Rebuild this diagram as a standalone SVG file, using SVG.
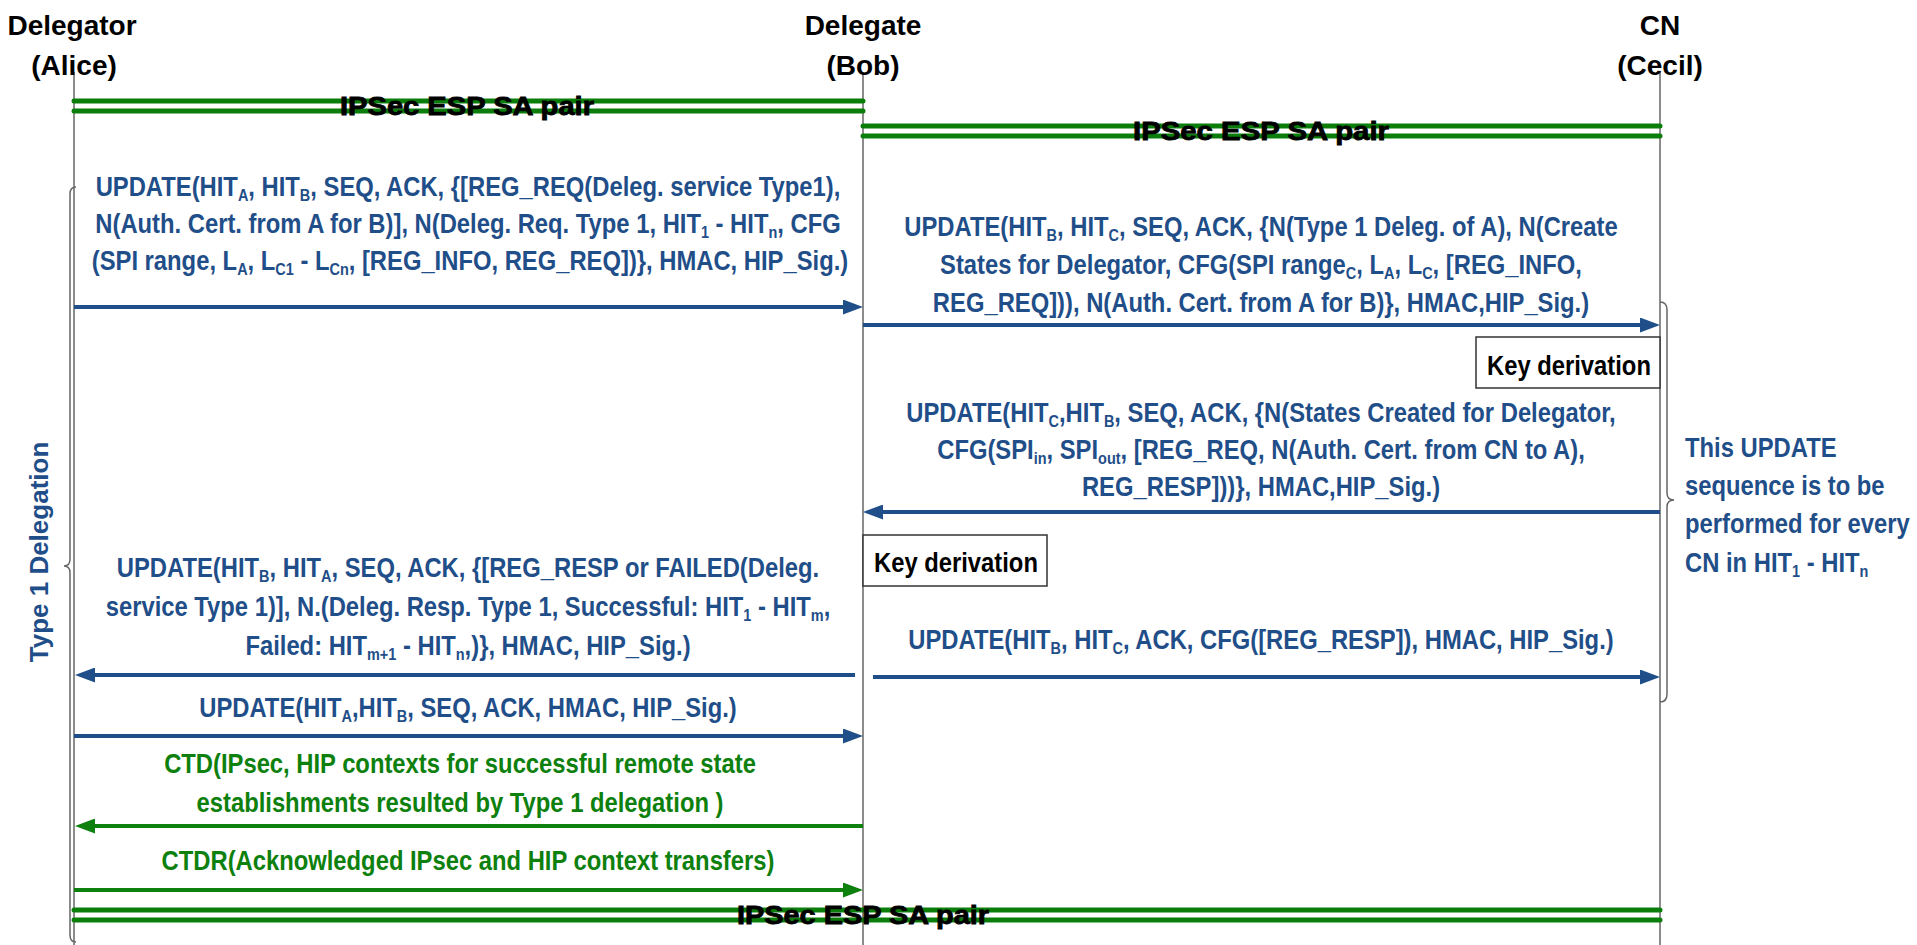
<svg xmlns="http://www.w3.org/2000/svg" width="1917" height="945" viewBox="0 0 1917 945">
<style>
.hd{font-family:"Liberation Sans",Arial,sans-serif;font-weight:bold;font-size:28px;fill:#000;text-anchor:middle}
.m{font-family:"Liberation Sans",Arial,sans-serif;font-weight:bold;font-size:28px;fill:#1f4e89;text-anchor:middle}
.g{font-family:"Liberation Sans",Arial,sans-serif;font-weight:bold;font-size:28px;fill:#0d800d;text-anchor:middle}
.l{text-anchor:start}
.kd{font-family:"Liberation Sans",Arial,sans-serif;font-weight:bold;font-size:28px;fill:#000;text-anchor:start}
.sa{font-family:"Liberation Sans",Arial,sans-serif;font-weight:bold;font-size:25px;fill:#000;stroke:#000;stroke-width:0.8;text-anchor:middle}
.s{font-size:17px}
.life{stroke:#666;stroke-width:1.5;fill:none}
.arr{stroke:#1f4e89;stroke-width:4;fill:none}
.garr{stroke:#0d800d;stroke-width:4;fill:none}
.sal{stroke:#0b7d0b;stroke-width:5;stroke-linecap:round;fill:none}
.box{fill:#fff;stroke:#333;stroke-width:1.5}
.brace{fill:none;stroke:#666;stroke-width:1.5}
</style>
<defs>
<marker id="ab" markerUnits="userSpaceOnUse" markerWidth="20" markerHeight="15" refX="8" refY="7.5" orient="auto"><path d="M0,0 L20,7.5 L0,15 z" fill="#1f4e89"/></marker>
<marker id="ag" markerUnits="userSpaceOnUse" markerWidth="20" markerHeight="15" refX="8" refY="7.5" orient="auto"><path d="M0,0 L20,7.5 L0,15 z" fill="#0d800d"/></marker>
</defs>
<rect width="1917" height="945" fill="#fff"/>

<g id="alice">
<line class="life" x1="74" y1="72" x2="74" y2="945"/>
<text class="hd" x="72" y="35">Delegator</text>
<text class="hd" x="74" y="75">(Alice)</text>
</g>
<g id="bob">
<line class="life" x1="863" y1="72" x2="863" y2="945"/>
<text class="hd" x="863" y="35">Delegate</text>
<text class="hd" x="863" y="75">(Bob)</text>
</g>
<g id="cn">
<line class="life" x1="1660" y1="72" x2="1660" y2="945"/>
<text class="hd" x="1660" y="35">CN</text>
<text class="hd" x="1660" y="75">(Cecil)</text>
</g>

<g id="keyderiv-cn">
<rect class="box" x="1476" y="337" width="184" height="51"/>
<text class="kd" transform="translate(1487,375) scale(0.85,1)">Key derivation</text>
</g>
<g id="keyderiv-bob">
<rect class="box" x="863" y="535" width="184" height="51"/>
<text class="kd" transform="translate(874,572) scale(0.85,1)">Key derivation</text>
</g>

<g id="brace-left">
<path class="brace" d="M76,187 Q70,187 70,194 L70,559 Q70,566 64,566 Q70,566 70,573 L70,935 Q70,942 76,942"/>
<text class="m" transform="translate(48,552) rotate(-90)" style="font-size:26px">Type 1 Delegation</text>
</g>
<g id="brace-right">
<path class="brace" d="M1660,302 Q1667,302 1667,310 L1667,493 Q1667,500 1674,500 Q1667,500 1667,507 L1667,694 Q1667,702 1660,702"/>
<text class="m l" transform="translate(1685,457) scale(0.85,1)">This UPDATE</text>
<text class="m l" transform="translate(1685,495) scale(0.85,1)">sequence is to be</text>
<text class="m l" transform="translate(1685,533) scale(0.85,1)">performed for every</text>
<text class="m l" transform="translate(1685,572) scale(0.85,1)">CN in HIT<tspan class="s" dy="5">1</tspan><tspan dy="-5"> - HIT</tspan><tspan class="s" dy="5">n</tspan></text>
</g>

<g id="connectors">
<line class="sal" x1="74" y1="101" x2="863" y2="101"/>
<line class="sal" x1="74" y1="111" x2="863" y2="111"/>
<line class="sal" x1="863" y1="126" x2="1660" y2="126"/>
<line class="sal" x1="863" y1="136" x2="1660" y2="136"/>
<line class="sal" x1="74" y1="910" x2="1660" y2="910"/>
<line class="sal" x1="74" y1="920" x2="1660" y2="920"/>
<line class="arr" x1="74" y1="307" x2="851" y2="307" marker-end="url(#ab)"/>
<line class="arr" x1="863" y1="325" x2="1648" y2="325" marker-end="url(#ab)"/>
<line class="arr" x1="1660" y1="512" x2="875" y2="512" marker-end="url(#ab)"/>
<line class="arr" x1="855" y1="675" x2="87" y2="675" marker-end="url(#ab)"/>
<line class="arr" x1="873" y1="677" x2="1648" y2="677" marker-end="url(#ab)"/>
<line class="arr" x1="74" y1="736" x2="851" y2="736" marker-end="url(#ab)"/>
<line class="garr" x1="863" y1="826" x2="87" y2="826" marker-end="url(#ag)"/>
<line class="garr" x1="74" y1="890" x2="851" y2="890" marker-end="url(#ag)"/>
</g>

<g id="labels">
<text class="sa" x="467" y="115" textLength="254" lengthAdjust="spacingAndGlyphs">IPSec ESP SA pair</text>
<text class="sa" x="1261" y="140" textLength="256" lengthAdjust="spacingAndGlyphs">IPSec ESP SA pair</text>
<text class="sa" x="863" y="924" textLength="252" lengthAdjust="spacingAndGlyphs">IPSec ESP SA pair</text>

<text class="m" transform="translate(468,196) scale(0.85,1)">UPDATE(HIT<tspan class="s" dy="5">A</tspan><tspan dy="-5">, HIT</tspan><tspan class="s" dy="5">B</tspan><tspan dy="-5">, SEQ, ACK, {[REG_REQ(Deleg. service Type1),</tspan></text>
<text class="m" transform="translate(468,233) scale(0.85,1)">N(Auth. Cert. from A for B)], N(Deleg. Req. Type 1, HIT<tspan class="s" dy="5">1</tspan><tspan dy="-5"> - HIT</tspan><tspan class="s" dy="5">n</tspan><tspan dy="-5">, CFG</tspan></text>
<text class="m" transform="translate(470,270) scale(0.85,1)">(SPI range, L<tspan class="s" dy="5">A</tspan><tspan dy="-5">, L</tspan><tspan class="s" dy="5">C1</tspan><tspan dy="-5"> - L</tspan><tspan class="s" dy="5">Cn</tspan><tspan dy="-5">, [REG_INFO, REG_REQ])}, HMAC, HIP_Sig.)</tspan></text>

<text class="m" transform="translate(1261,236) scale(0.85,1)">UPDATE(HIT<tspan class="s" dy="5">B</tspan><tspan dy="-5">, HIT</tspan><tspan class="s" dy="5">C</tspan><tspan dy="-5">, SEQ, ACK, {N(Type 1 Deleg. of A), N(Create</tspan></text>
<text class="m" transform="translate(1261,274) scale(0.85,1)">States for Delegator, CFG(SPI range<tspan class="s" dy="5">C</tspan><tspan dy="-5">, L</tspan><tspan class="s" dy="5">A</tspan><tspan dy="-5">, L</tspan><tspan class="s" dy="5">C</tspan><tspan dy="-5">, [REG_INFO,</tspan></text>
<text class="m" transform="translate(1261,312) scale(0.85,1)">REG_REQ])), N(Auth. Cert. from A for B)}, HMAC,HIP_Sig.)</text>

<text class="m" transform="translate(1261,422) scale(0.85,1)">UPDATE(HIT<tspan class="s" dy="5">C</tspan><tspan dy="-5">,HIT</tspan><tspan class="s" dy="5">B</tspan><tspan dy="-5">, SEQ, ACK, {N(States Created for Delegator,</tspan></text>
<text class="m" transform="translate(1261,459) scale(0.85,1)">CFG(SPI<tspan class="s" dy="5">in</tspan><tspan dy="-5">, SPI</tspan><tspan class="s" dy="5">out</tspan><tspan dy="-5">, [REG_REQ, N(Auth. Cert. from CN to A),</tspan></text>
<text class="m" transform="translate(1261,496) scale(0.85,1)">REG_RESP]))}, HMAC,HIP_Sig.)</text>

<text class="m" transform="translate(468,577) scale(0.85,1)">UPDATE(HIT<tspan class="s" dy="5">B</tspan><tspan dy="-5">, HIT</tspan><tspan class="s" dy="5">A</tspan><tspan dy="-5">, SEQ, ACK, {[REG_RESP or FAILED(Deleg.</tspan></text>
<text class="m" transform="translate(468,616) scale(0.85,1)">service Type 1)], N.(Deleg. Resp. Type 1, Successful: HIT<tspan class="s" dy="5">1</tspan><tspan dy="-5"> - HIT</tspan><tspan class="s" dy="5">m</tspan><tspan dy="-5">,</tspan></text>
<text class="m" transform="translate(468,655) scale(0.85,1)">Failed: HIT<tspan class="s" dy="5">m+1</tspan><tspan dy="-5"> - HIT</tspan><tspan class="s" dy="5">n</tspan><tspan dy="-5">,)}, HMAC, HIP_Sig.)</tspan></text>

<text class="m" transform="translate(1261,649) scale(0.85,1)">UPDATE(HIT<tspan class="s" dy="5">B</tspan><tspan dy="-5">, HIT</tspan><tspan class="s" dy="5">C</tspan><tspan dy="-5">, ACK, CFG([REG_RESP]), HMAC, HIP_Sig.)</tspan></text>

<text class="m" transform="translate(468,717) scale(0.85,1)">UPDATE(HIT<tspan class="s" dy="5">A</tspan><tspan dy="-5">,HIT</tspan><tspan class="s" dy="5">B</tspan><tspan dy="-5">, SEQ, ACK, HMAC, HIP_Sig.)</tspan></text>

<text class="g" transform="translate(460,773) scale(0.85,1)">CTD(IPsec, HIP contexts for successful remote state</text>
<text class="g" transform="translate(460,812) scale(0.85,1)">establishments resulted by Type 1 delegation )</text>
<text class="g" transform="translate(468,870) scale(0.85,1)">CTDR(Acknowledged IPsec and HIP context transfers)</text>
</g>
</svg>
